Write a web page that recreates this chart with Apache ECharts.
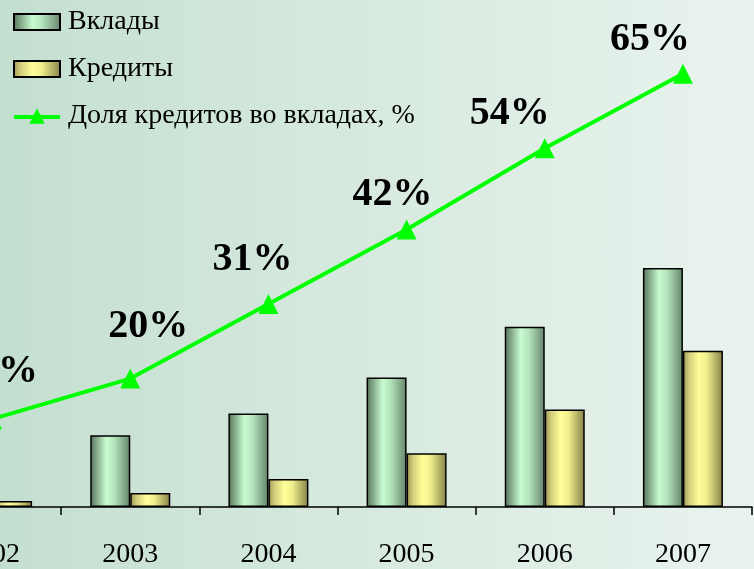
<!DOCTYPE html>
<html>
<head>
<meta charset="utf-8">
<script src="https://cdn.jsdelivr.net/npm/echarts@6/dist/echarts.min.js"></script>
<style>
  html, body { margin: 0; padding: 0; overflow: hidden; }
  #frame {
    position: relative;
    width: 754px;
    height: 569px;
    overflow: hidden;
    background: linear-gradient(to right, #c3dfd0 0%, #d6e9de 45%, #e9f3ee 100%);
  }
  /* the slide is cropped on the left: 2002 is only half visible */
  #chart { position: absolute; left: -77px; top: 0; width: 831px; height: 569px; }
</style>
</head>
<body>
<div id="frame"><div id="chart"></div></div>
<script>
const years = ['2002', '2003', '2004', '2005', '2006', '2007'];
const deposits = [43, 72, 94, 130, 181, 240];
const credits = [6, 14, 28, 54, 98, 157];
const creditShare = [14, 20, 31, 42, 54, 65];

// label nudges, so the percent labels sit like in the original slide
const labelShift = [[6, -48], [18, -52], [-16, -44], [-14, -35], [-35, -35], [-33, -34]];

const chart = echarts.init(document.getElementById('chart'));

const serif = "'Liberation Serif', 'Times New Roman', serif";
const lineIcon = 'path://M0,7 L48,7 L48,11 L0,11 Z M24,0 L32,16 L16,16 Z';

const option = {
  backgroundColor: 'transparent',
  animation: false,
  legend: {
    orient: 'vertical',
    left: 85,
    top: 3,
    itemWidth: 46,
    itemHeight: 16,
    itemGap: 19,
    textStyle: {
      fontFamily: serif,
      fontSize: 28,
      color: '#000',
      padding: [0, 0, 0, 3]
    },
    data: [
      { name: 'Вклады', icon: 'rect' },
      { name: 'Кредиты', icon: 'rect' },
      { name: 'Доля кредитов во вкладах, %', icon: lineIcon, itemStyle: { borderWidth: 0 } }
    ]
  },
  grid: {
    left: 0,
    right: 2,
    top: 29,
    bottom: 60
  },
  xAxis: {
    type: 'category',
    data: years,
    axisLine: { lineStyle: { color: '#000', width: 1.5 } },
    axisTick: { show: true, length: 8, lineStyle: { color: '#000', width: 1.5 } },
    axisLabel: {
      fontFamily: serif,
      fontSize: 28,
      color: '#000',
      margin: 34
    }
  },
  yAxis: [
    { type: 'value', min: 0, max: 480, show: false },
    { type: 'value', min: 1.03, max: 71.62, show: false }
  ],
  series: [
    {
      name: 'Вклады',
      type: 'bar',
      barWidth: 40,
      barGap: '0%',
      itemStyle: {
        borderColor: '#000',
        borderWidth: 1.5,
        color: new echarts.graphic.LinearGradient(0, 0, 1, 0, [
          { offset: 0, color: '#55745a' },
          { offset: 0.15, color: '#80a585' },
          { offset: 0.4, color: '#c8fcd0' },
          { offset: 0.6, color: '#b4e4bc' },
          { offset: 1, color: '#64836a' }
        ])
      },
      data: deposits
    },
    {
      name: 'Кредиты',
      type: 'bar',
      barWidth: 40,
      itemStyle: {
        borderColor: '#000',
        borderWidth: 1.5,
        color: new echarts.graphic.LinearGradient(0, 0, 1, 0, [
          { offset: 0, color: '#9a9553' },
          { offset: 0.15, color: '#d0cc7a' },
          { offset: 0.4, color: '#ffff99' },
          { offset: 0.6, color: '#eeee8c' },
          { offset: 1, color: '#858047' }
        ])
      },
      data: credits
    },
    {
      name: 'Доля кредитов во вкладах, %',
      type: 'line',
      yAxisIndex: 1,
      clip: false,
      z: 5,
      symbol: 'triangle',
      symbolSize: [20, 20],
      itemStyle: { color: '#00ff00' },
      lineStyle: { color: '#00ff00', width: 4 },
      label: {
        show: true,
        position: 'inside',
        fontFamily: serif,
        fontWeight: 'bold',
        fontSize: 40,
        color: '#000',
        formatter: p => p.value + '%'
      },
      data: creditShare.map((v, i) => ({
        value: v,
        label: { offset: labelShift[i] }
      }))
    }
  ]
};

chart.setOption(option);
</script>
</body>
</html>
